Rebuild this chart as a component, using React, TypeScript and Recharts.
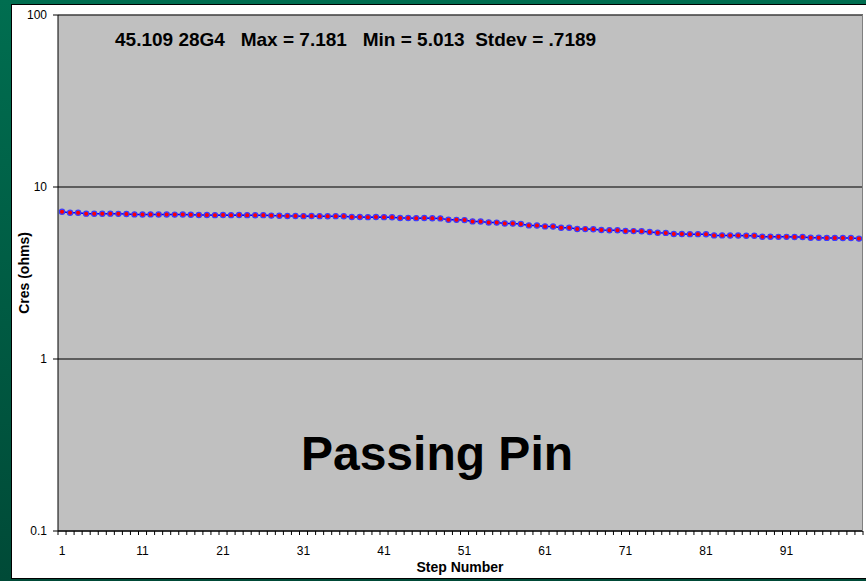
import { LineChart, Line, XAxis, YAxis, CartesianGrid } from "recharts";

const steps = Array.from({ length: 100 }, (_, i) => i + 1);

// Cres (ohms) per step
const cres = [
  7.181, 7.09, 7.08, 7.0, 6.99, 6.99, 7.0, 6.98, 6.97, 6.93,
  6.92, 6.93, 6.92, 6.92, 6.91, 6.92, 6.9, 6.87, 6.87, 6.86,
  6.87, 6.86, 6.87, 6.86, 6.85, 6.86, 6.82, 6.8, 6.78, 6.78,
  6.77, 6.78, 6.77, 6.76, 6.77, 6.76, 6.69, 6.69, 6.68, 6.69,
  6.68, 6.67, 6.6, 6.6, 6.59, 6.6, 6.58, 6.57, 6.45, 6.44,
  6.42, 6.31, 6.3, 6.22, 6.21, 6.14, 6.13, 6.09, 5.98, 5.97,
  5.9, 5.89, 5.8, 5.79, 5.7, 5.69, 5.68, 5.62, 5.61, 5.6,
  5.55, 5.54, 5.53, 5.47, 5.42, 5.41, 5.33, 5.33, 5.32, 5.32,
  5.31, 5.23, 5.23, 5.22, 5.22, 5.21, 5.21, 5.14, 5.14, 5.13,
  5.13, 5.12, 5.12, 5.07, 5.07, 5.06, 5.06, 5.05, 5.05, 5.013,
];

const yTicks = [0.1, 1, 10, 100];
const labelEvery = 10;
const title = "45.109 28G4   Max = 7.181   Min = 5.013  Stdev = .7189";
const note = "Passing Pin";

const data = steps.map((s, i) => ({ step: s, cres: cres[i] }));

const font = '"Liberation Sans", Arial, sans-serif';

function StepTick(props: any) {
  const { x, y, payload, index } = props;
  const half =
    payload && payload.offset
      ? payload.offset
      : props.width
      ? props.width / (2 * steps.length)
      : 4;
  return (
    <g>
      <line x1={x - half} x2={x - half} y1={y} y2={y + 4} stroke="#000" />
      {index === steps.length - 1 && (
        <line x1={x + half} x2={x + half} y1={y} y2={y + 4} stroke="#000" />
      )}
      {index % labelEvery === 0 && (
        <text
          x={x}
          y={y + 24}
          textAnchor="middle"
          fontSize={12}
          fontFamily={font}
          fill="#000"
        >
          {payload.value}
        </text>
      )}
    </g>
  );
}

export default function App() {
  return (
    <div
      style={{
        position: "absolute",
        left: 0,
        top: 0,
        width: 866,
        height: 581,
        background: "linear-gradient(to bottom, #006e50, #004a37)",
        fontFamily: font,
        overflow: "hidden",
      }}
    >
      <div
        style={{
          position: "absolute",
          left: 11,
          top: 4,
          width: 860,
          height: 573,
          background: "#fff",
          border: "1px solid #000",
        }}
      />
      <div style={{ position: "absolute", left: 0, top: 0 }}>
        <LineChart
          width={866}
          height={581}
          data={data}
          margin={{ top: 15, right: 3, bottom: 0, left: 0 }}
        >
          <CartesianGrid
            vertical={false}
            stroke="#3c3c3c"
            strokeWidth={1.3}
            fill="#c0c0c0"
            fillOpacity={1}
          />
          <XAxis
            dataKey="step"
            type="category"
            scale="band"
            interval={0}
            height={50}
            tickSize={0}
            tickMargin={0}
            tickLine={false}
            axisLine={{ stroke: "#000" }}
            tick={<StepTick />}
          />
          <YAxis
            type="number"
            scale="log"
            domain={[0.1, 100]}
            ticks={yTicks}
            allowDataOverflow
            width={58}
            tickSize={5}
            tickMargin={6}
            tickLine={{ stroke: "#000" }}
            axisLine={{ stroke: "#000" }}
            tick={{ fontSize: 12, fill: "#000", fontFamily: font }}
            tickFormatter={(v: number) => String(v)}
          />
          <Line
            type="linear"
            dataKey="cres"
            stroke="#0000ff"
            strokeWidth={1.5}
            dot={{ r: 2.6, fill: "#ff0000", stroke: "#3c3cff", strokeWidth: 1.2 }}
            isAnimationActive={false}
          />
        </LineChart>
      </div>
      <div
        style={{
          position: "absolute",
          left: 862,
          top: 15,
          width: 1,
          height: 516,
          background: "#808080",
        }}
      />
      <div
        style={{
          position: "absolute",
          left: 115,
          top: 30,
          fontSize: 19,
          lineHeight: "19px",
          fontWeight: "bold",
          whiteSpace: "pre",
          color: "#000",
        }}
      >
        {title}
      </div>
      <div
        style={{
          position: "absolute",
          left: 237,
          width: 400,
          top: 430,
          fontSize: 48,
          lineHeight: "48px",
          fontWeight: "bold",
          textAlign: "center",
          whiteSpace: "pre",
          color: "#000",
        }}
      >
        {note}
      </div>
      <div
        style={{
          position: "absolute",
          left: 460,
          top: 567,
          transform: "translate(-50%, -50%)",
          fontSize: 14,
          fontWeight: "bold",
          whiteSpace: "nowrap",
          color: "#000",
        }}
      >
        Step Number
      </div>
      <div
        style={{
          position: "absolute",
          left: 24,
          top: 273,
          transform: "translate(-50%, -50%) rotate(-90deg)",
          fontSize: 14,
          fontWeight: "bold",
          whiteSpace: "nowrap",
          color: "#000",
        }}
      >
        Cres (ohms)
      </div>
    </div>
  );
}
